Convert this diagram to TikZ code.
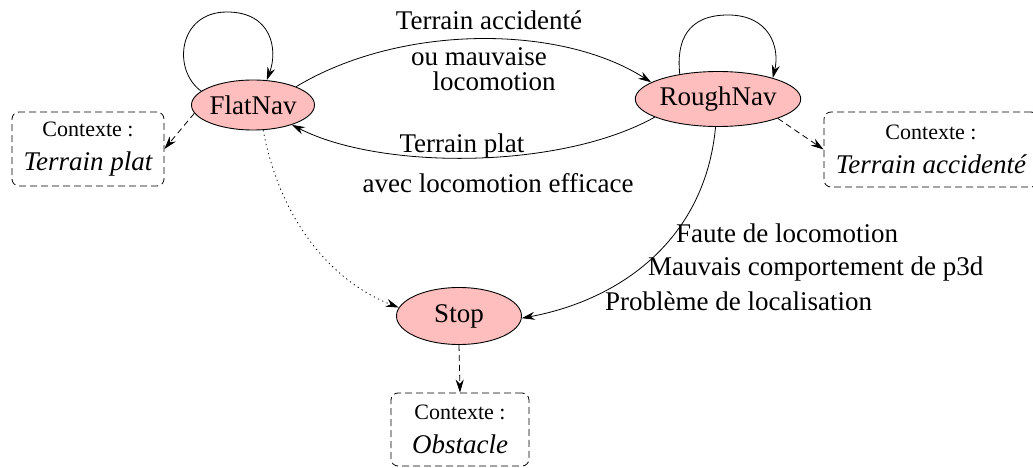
\documentclass[tikz,border=0pt]{standalone}
\usepackage{fontspec}
\setmainfont{Liberation Serif}
\usetikzlibrary{shapes.geometric,arrows.meta}
\definecolor{statefill}{RGB}{255,190,190}
\begin{document}
\begin{tikzpicture}[x=1pt,y=-1pt,
  state/.style={ellipse,draw,line width=0.9pt,fill=statefill,inner sep=0pt,font=\fontsize{27}{30}\selectfont},
  ctx/.style={draw,dash pattern=on 7pt off 4pt,line width=0.8pt,rounded corners=7pt,align=center,inner sep=0pt,font=\fontsize{27}{34}\selectfont},
  arr/.style={-{Stealth[length=13pt,width=8pt]},line width=0.8pt},
  dsh/.style={dash pattern=on 6pt off 4pt},
  dts/.style={dash pattern=on 1.2pt off 3.5pt},
  lbl/.style={font=\fontsize{27}{30}\selectfont,inner sep=0pt}]
\useasboundingbox (0,0) rectangle (1033,468);
\newcommand{\ctxsmall}{\fontsize{22}{34}\selectfont}
% states
\node[state,minimum width=110pt,minimum height=50pt] (flat) at (253,105) {FlatNav};
\node[state,minimum width=137pt,minimum height=55pt] (rough) at (718,99) {RoughNav};
\node[state,minimum width=125pt,minimum height=57pt] (stop) at (459,316) {Stop};
% context boxes
\node[ctx,minimum width=152pt,minimum height=74pt] (cflat) at (88,149) {{\ctxsmall Contexte :}\\\itshape Terrain plat};
\node[ctx,minimum width=214pt,minimum height=75pt] (crough) at (931,149.5) {{\ctxsmall Contexte :}\\\itshape Terrain accidenté};
\node[ctx,minimum width=138pt,minimum height=73pt] (cobs) at (460,429.5) {{\ctxsmall Contexte :}\\\itshape Obstacle};
% self loops
\draw[arr] (flat.165) .. controls (172,70) and (178,12) .. (227,12) .. controls (272,12) and (278,50) .. (flat.61);
\draw[arr] (rough.147) .. controls (676,40) and (688,15) .. (728,15) .. controls (770,15) and (780,48) .. (rough.21);
% transitions
\draw[arr] (flat.23) .. controls (400,24) and (560,24) .. (rough.166);
\draw[arr] (rough.196) .. controls (560,170) and (380,170) .. (flat.333);
\draw[arr,dts] (flat.292) .. controls (282,230) and (340,285) .. (stop.172);
\draw[arr] (rough.265) .. controls (705,240) and (620,300) .. (stop.-2);
% context arrows
\draw[arr,dsh] (flat.188) -- (cflat.east);
\draw[arr,dsh] (rough.-18) -- (crough.west);
\draw[arr,dsh] (stop.south) -- (cobs.north);
% labels
\node[lbl,anchor=base] (l1) at (489,30) {Terrain accidenté};
\node[lbl,anchor=base] (l2) at (479,66) {ou mauvaise};
\node[lbl,anchor=base] (l3) at (494,91) {locomotion};
\node[lbl,anchor=base] (l4) at (462,153) {Terrain plat};
\node[lbl,anchor=base] (l5) at (498,192) {avec locomotion efficace};
\node[lbl,anchor=base west] (l6) at (676,242) {Faute de locomotion};
\node[lbl,anchor=base west] (l7) at (648,275) {Mauvais comportement de p3d};
\node[lbl,anchor=base west] (l8) at (605,310) {Problème de localisation};
\end{tikzpicture}
\end{document}
